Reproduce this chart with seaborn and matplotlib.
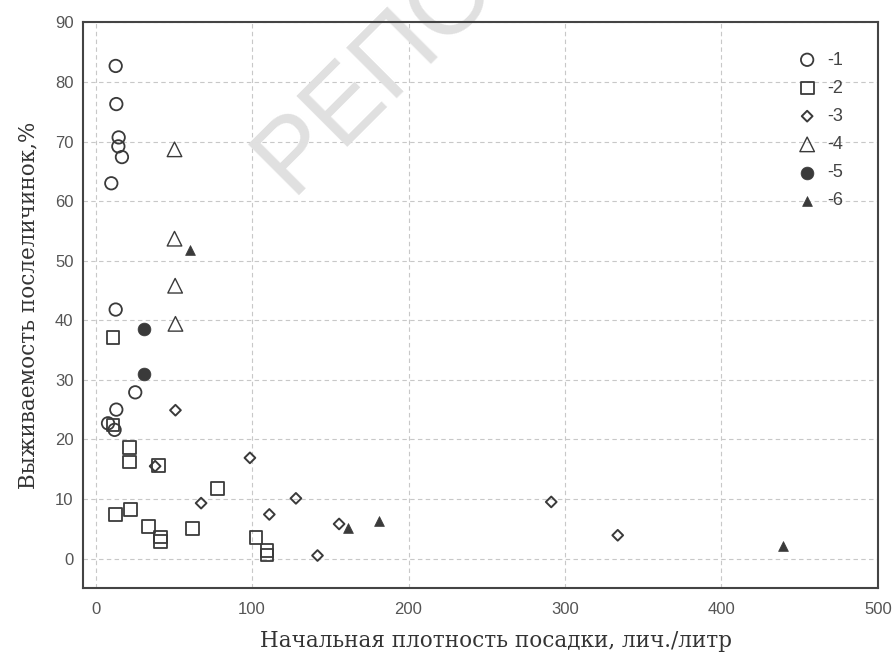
import matplotlib
matplotlib.use("Agg")
import matplotlib.pyplot as plt
import seaborn as sns

# series 1: open circles
x1 = [12.8, 13.2, 14.7, 14.5, 16.8, 10.0, 12.8, 25.3, 13.2, 7.9, 12.1]
y1 = [82.7, 76.3, 70.7, 69.2, 67.4, 63.0, 41.8, 27.9, 25.0, 22.7, 21.6]
# series 2: open squares
x2 = [11.1, 11.1, 21.7, 21.7, 40.2, 78.0, 12.6, 22.1, 34.0, 41.2, 41.2, 61.7, 102.5, 109.5, 109.5]
y2 = [37.1, 22.4, 18.7, 16.2, 15.6, 11.8, 7.4, 8.2, 5.4, 3.6, 2.8, 5.1, 3.5, 1.3, 0.6]
# series 3: small diamonds
x3 = [38.0, 51.0, 67.4, 98.6, 111.0, 128.0, 141.8, 155.6, 291.2, 333.7]
y3 = [15.5, 24.9, 9.3, 16.9, 7.4, 10.1, 0.5, 5.8, 9.5, 3.9]
# series 4: open triangles
x4 = [50.4, 50.4, 50.8, 51.0]
y4 = [68.7, 53.7, 45.8, 39.4]
# series 5: filled circles
x5 = [31.2, 31.2]
y5 = [38.6, 30.9]
# series 6: filled triangles
x6 = [60.4, 161.4, 181.3, 439.4]
y6 = [51.8, 5.1, 6.3, 2.1]

labels = ["-1", "-2", "-3", "-4", "-5", "-6"]

xlabel = "Начальная плотность посадки, лич./литр"
ylabel = "Выживаемость послеличинок,%"

sns.set_style("white")
plt.rcParams["font.family"] = ["Liberation Sans", "DejaVu Sans"]

fig, ax = plt.subplots(figsize=(8.94, 6.61), dpi=100)
fig.subplots_adjust(left=0.093, right=0.982, top=0.966, bottom=0.110)

ink = "#3a3a3a"
series = [
    (x1, y1, "o", 80, "none", 1.3),
    (x2, y2, "s", 85, "none", 1.3),
    (x3, y3, "D", 30, "none", 1.4),
    (x4, y4, "^", 110, "none", 1.0),
    (x5, y5, "o", 85, ink, 0.5),
    (x6, y6, "^", 50, ink, 0.5),
]
for (xs, ys, m, s, fc, lw), lab in zip(series, labels):
    sns.scatterplot(x=xs, y=ys, marker=m, s=s, color=ink, facecolor=fc,
                    edgecolor=ink, linewidth=lw, label=lab, ax=ax, zorder=3)

ax.set_xlim(-8, 500)
ax.set_ylim(-5, 90)
ax.set_xticks(range(0, 501, 100))
ax.set_yticks(range(0, 91, 10))
ax.grid(True, color="#c8c8c8", linestyle=(0, (4, 3)), linewidth=0.8)
ax.set_axisbelow(True)
for sp in ax.spines.values():
    sp.set_color("#444444")
    sp.set_linewidth(1.5)
ax.tick_params(direction="in", length=4, width=1, colors="#444444",
               labelsize=12, labelcolor="#555555")
ax.tick_params(axis="x", pad=10)
ax.tick_params(axis="y", pad=7)

ax.set_xlabel(xlabel, fontsize=15.5, family="DejaVu Serif", color="#333333", labelpad=9)
ax.xaxis.label.set_x(0.52)
ax.set_ylabel(ylabel, fontsize=15.5, family="DejaVu Serif", color="#333333", labelpad=11)

leg = ax.legend(loc="upper right", bbox_to_anchor=(0.972, 0.971), frameon=False,
                fontsize=13, handletextpad=0.5, labelspacing=0.62,
                handlelength=1.2, borderpad=0.2)
for t in leg.get_texts():
    t.set_color("#444444")

# faint repository watermark
ax.text(0.325, 0.705, "РЕПО", transform=fig.transFigure, rotation=45,
        rotation_mode="anchor", ha="left", va="baseline", fontsize=75,
        color="#e0e0e0", zorder=1, clip_on=False)

fig.savefig("out.png", dpi=100)
